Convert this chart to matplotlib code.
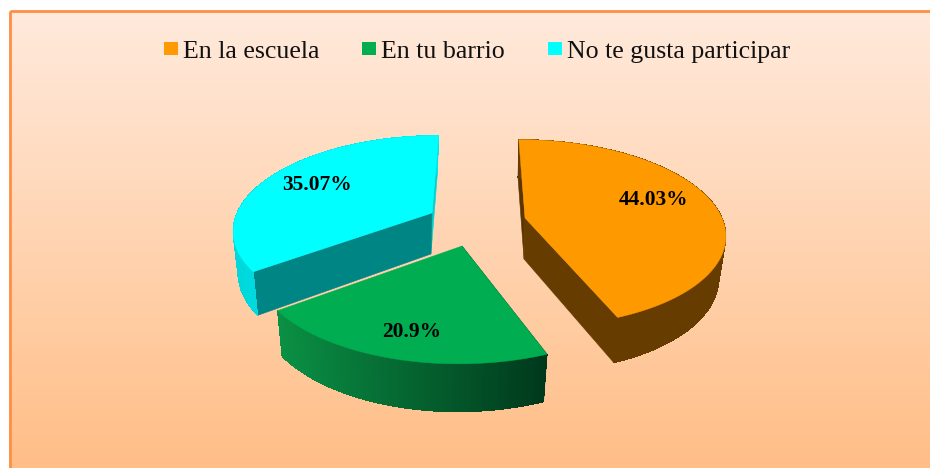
import matplotlib
matplotlib.use("Agg")
import matplotlib.pyplot as plt
import numpy as np
from matplotlib.collections import PolyCollection
from matplotlib.patches import Polygon, Rectangle

labels = ["En la escuela", "En tu barrio", "No te gusta participar"]
values = [44.03, 20.9, 35.07]
colors = ["#FF9900", "#00AD50", "#00FFFF"]

# pixel geometry of each exploded slice: apex x, apex y, radius x, radius y, thickness
slice_geom = [(525, 218, 197, 91, 41), (462, 246, 205, 99, 43), (432, 213, 195, 90, 41)]
VX = 480      # vanishing x
K = 0.16      # perspective strength


def project(geom, t):
    ax_, ay, a, b, depth = geom
    x, y = np.sin(t), -np.cos(t)
    f = 1 / (1 - K * y)
    return VX + (ax_ - VX + a * x) * f, ay + b * y * f, depth * (1 + 0.6 * (f - 1))


def drop(geom, sx, sy, d):
    # bottom rim, pulled in a little towards the apex
    return geom[0] - 1 + (sx - geom[0]) * 0.97, sy + d


def draw_slice(ax, geom, start, end, top, side_from, side_to, cut_faces):
    t = np.linspace(start, end, 160)
    sx, sy, d = project(geom, t)
    bx, by = drop(geom, sx, sy, d)
    apex = (geom[0], geom[1])
    apex_low = drop(geom, geom[0], geom[1], geom[4])

    # faces from the apex, painted first
    for idx, col in cut_faces:
        ax.add_patch(Polygon([apex, (sx[idx], sy[idx]), (bx[idx], by[idx]), apex_low],
                             closed=True, fc=col, ec=col, lw=0.4))

    c0, c1 = np.array(matplotlib.colors.to_rgb(side_from)), np.array(matplotlib.colors.to_rgb(side_to))
    # solid underlay hides the seams between the quads
    rim = np.vstack([np.column_stack([sx, sy]), np.column_stack([bx, by])[::-1]])
    ax.add_patch(Polygon(rim, closed=True, fc=(c0 + c1) / 2, ec="none"))

    # rim as many small quads so it can carry a gradient
    quads = [[(sx[i], sy[i]), (sx[i + 1], sy[i + 1]), (bx[i + 1], by[i + 1]), (bx[i], by[i])]
             for i in range(len(t) - 1)]
    lo, hi = sx.min(), sx.max()
    mid = (sx[:-1] + sx[1:]) / 2
    w = ((mid - lo) / (hi - lo))[:, None]
    quad_cols = c0 + (c1 - c0) * w
    ax.add_collection(PolyCollection(quads, facecolors=quad_cols, edgecolors="none", antialiaseds=False))

    ax.add_patch(Polygon(np.vstack([apex, np.column_stack([sx, sy])]), closed=True, fc=top, ec=top, lw=0.3))


fig = plt.figure(figsize=(9.3, 4.68), dpi=100, facecolor="white")
ax = fig.add_axes([0, 0, 1, 1])
ax.axis("off")

# panel background
grad = np.linspace(0, 1, 256)[:, None, None]
top_col = np.array([255, 234, 220]) / 255
bot_col = np.array([255, 189, 133]) / 255
ax.imshow(top_col + (bot_col - top_col) * grad, extent=(9, 940, 480, 11), aspect="auto", zorder=0)
ax.add_patch(Rectangle((9.5, 11), 940, 480, fc="none", ec="#FF8F45", lw=2, zorder=1))
ax.set_xlim(0, 930)
ax.set_ylim(468, 0)

fracs = np.array(values) / sum(values) * 2 * np.pi
ends = np.cumsum(fracs)
starts = ends - fracs

# cyan, then orange, then green on top
draw_slice(ax, slice_geom[2], starts[2], ends[2], colors[2], "#00D8DC", "#00E4E6", [(-1, "#00D2D2"), (0, "#008585")])
draw_slice(ax, slice_geom[0], starts[0], ends[0], colors[0], "#663C00", "#663C00", [(0, "#5A3500"), (-1, "#663C00")])
draw_slice(ax, slice_geom[1], starts[1], ends[1], colors[1], "#0A9044", "#00381C", [(0, "#00381C")])

# value labels
label_pos = [(653.5, 200), (411.5, 332), (317, 185)]
for v, (lx, ly) in zip(values, label_pos):
    ax.text(lx, ly, f"{v:g}%", family="Liberation Serif", weight="bold", fontsize=15.4,
            ha="center", va="center", color="black", zorder=5)

# legend
legend_x = [164, 362, 548]
for name, col, lx in zip(labels, colors, legend_x):
    ax.add_patch(Rectangle((lx, 42), 14, 13, fc=col, ec="none", zorder=5))
    ax.text(lx + 19, 58, name, family="Liberation Serif", fontsize=18.6, ha="left", va="baseline",
            color="#111111", zorder=5)

fig.savefig("out.png", dpi=100)
